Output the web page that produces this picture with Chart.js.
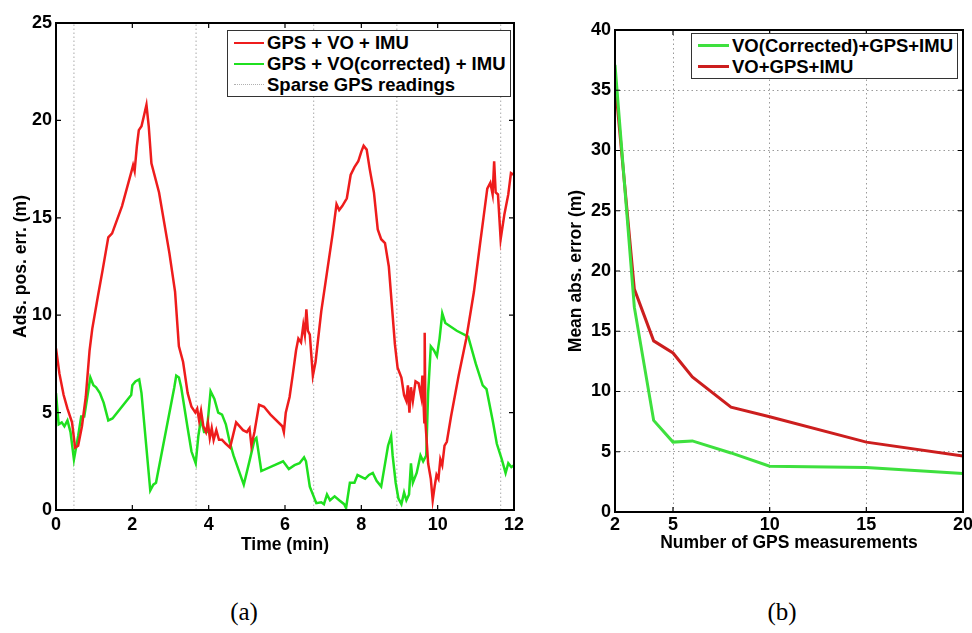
<!DOCTYPE html>
<html><head><meta charset="utf-8">
<script src="https://cdn.jsdelivr.net/npm/chart.js@4.4.0/dist/chart.umd.min.js"></script>
<style>
html,body{margin:0;padding:0;background:#fff;}
#wrap{position:relative;width:972px;height:633px;overflow:hidden;font-family:'Liberation Sans',Arial,sans-serif;}
canvas{position:absolute;top:0;}
#cA{left:0;} #cB{left:545px;}
.legend{position:absolute;background:#fff;border:1px solid #333;padding:1px 4px 1px 6px;font-weight:bold;font-size:18.5px;color:#000;}
.legend .row{display:flex;align-items:center;height:21px;white-space:nowrap;}
.legend .sw{width:30px;margin-right:3px;height:0;}
.cap{position:absolute;font-family:'Liberation Serif',serif;font-size:25px;color:#000;transform:translate(-50%,-50%);white-space:nowrap;}
</style></head><body>
<div id="wrap">
<canvas id="cA" width="545" height="570"></canvas>
<canvas id="cB" width="427" height="570"></canvas>
<div class="cap" style="left:244px;top:612px">(a)</div>
<div class="cap" style="left:782px;top:612px">(b)</div>
</div>
<script>
// ---------- Chart (a) data ----------
const timeRed = [0,0.09,0.2,0.3,0.42,0.5,0.58,0.68,0.78,0.88,0.95,1.1,1.22,1.37,1.47,1.73,1.98,2.02,2.06,2.12,2.17,2.24,2.3,2.37,2.43,2.5,2.7,2.97,3.12,3.22,3.33,3.45,3.55,3.65,3.7,3.75,3.8,3.86,3.93,3.98,4.03,4.08,4.13,4.2,4.27,4.35,4.45,4.56,4.72,4.9,5.0,5.07,5.12,5.2,5.32,5.45,5.62,5.93,5.97,6.02,6.12,6.2,6.29,6.35,6.42,6.48,6.52,6.56,6.6,6.65,6.73,6.8,6.95,7.1,7.25,7.35,7.42,7.5,7.62,7.72,7.82,7.92,8.0,8.06,8.14,8.22,8.33,8.43,8.52,8.62,8.72,8.8,8.88,8.95,9.05,9.12,9.18,9.22,9.26,9.3,9.35,9.42,9.5,9.57,9.6,9.63,9.65,9.66,9.68,9.75,9.82,9.87,9.92,9.97,10.02,10.07,10.12,10.18,10.24,10.35,10.55,10.75,10.95,11.1,11.2,11.3,11.38,11.44,11.48,11.52,11.58,11.65,11.75,11.85,11.92,12.0];
const errRed = [8.3,7.0,5.9,5.2,4.5,3.2,3.3,4.3,5.8,8.2,9.3,11.0,12.3,14.0,14.2,15.6,17.4,17.7,17.4,18.7,19.5,19.7,20.2,20.8,19.7,17.8,16.3,13.2,11.2,8.4,7.6,6.0,5.3,5.0,5.2,4.6,5.1,4.3,4.0,4.5,3.7,4.2,3.6,4.1,3.6,3.6,3.4,3.2,4.5,4.1,4.0,4.2,3.3,4.0,5.4,5.3,4.9,4.3,4.0,5.0,5.8,6.9,8.2,8.8,8.6,9.5,9.0,10.3,9.2,9.0,6.9,7.6,10.2,12.2,14.2,15.7,15.4,15.6,16.0,17.2,17.6,17.9,18.4,18.7,18.5,17.5,16.3,14.4,13.9,13.7,12.5,10.5,8.5,7.3,6.8,5.9,5.6,6.4,5.0,6.3,5.6,6.6,6.5,5.8,6.9,5.5,4.5,9.1,4.5,2.4,1.6,0.5,1.2,1.8,1.6,2.6,2.3,3.3,3.5,4.8,6.9,8.8,11.2,13.5,15.0,16.5,16.8,16.2,17.9,16.3,16.2,13.9,15.2,16.2,17.3,17.2];
const timeGreen = [0,0.07,0.15,0.22,0.3,0.38,0.47,0.58,0.66,0.74,0.82,0.9,0.98,1.05,1.15,1.25,1.37,1.48,1.97,2.0,2.08,2.18,2.24,2.47,2.55,2.62,3.1,3.15,3.22,3.28,3.45,3.55,3.66,3.73,3.8,3.88,3.95,4.05,4.15,4.25,4.35,4.45,4.55,4.65,4.92,5.08,5.2,5.25,5.38,5.95,6.1,6.25,6.38,6.5,6.55,6.65,6.82,6.95,7.02,7.1,7.18,7.3,7.42,7.55,7.6,7.7,7.82,7.9,8.0,8.1,8.2,8.3,8.4,8.52,8.7,8.78,8.82,8.9,8.97,9.05,9.12,9.18,9.25,9.3,9.35,9.45,9.55,9.62,9.7,9.75,9.82,9.9,9.98,10.05,10.12,10.2,10.5,10.8,11.0,11.18,11.28,11.45,11.55,11.68,11.78,11.85,11.93,12.0];
const errGreen = [6.0,4.4,4.5,4.3,4.6,4.0,2.6,3.8,4.8,4.8,5.8,6.8,6.4,6.3,6.0,5.5,4.6,4.7,5.9,6.4,6.6,6.7,6.0,1.0,1.3,1.4,6.3,6.9,6.8,6.3,4.2,3.0,2.4,3.8,4.7,4.0,4.0,6.1,5.7,5.0,4.9,4.4,3.5,2.8,1.3,2.6,3.6,3.7,2.0,2.5,2.1,2.3,2.4,2.7,2.5,1.2,0.35,0.4,0.3,0.8,0.5,0.7,0.5,0.3,0.1,1.4,1.4,1.8,1.7,1.6,1.8,1.9,1.5,1.2,3.3,3.8,2.8,1.4,0.6,0.3,0.9,0.5,0.8,2.4,1.4,1.9,2.8,2.5,2.8,6.0,8.4,8.2,7.9,8.8,10.1,9.6,9.2,8.9,7.5,6.4,6.2,4.5,3.4,2.6,1.9,2.4,2.2,2.3];
const sparseGpsTimes = [0.47, 3.67, 6.75, 8.93, 11.65];
const seriesNamesA = ['GPS + VO + IMU', 'GPS + VO(corrected) + IMU', 'Sparse GPS readings'];
const axisTitlesA = ['Time (min)', 'Ads. pos. err. (m)'];
const xRangeA = [0, 12], yRangeA = [0, 25];

// ---------- Chart (b) data ----------
const gpsCounts = [2, 3, 4, 5, 6, 8, 10, 15, 20];
const meanCorrected = [37.1, 17.0, 7.6, 5.8, 5.9, 4.9, 3.8, 3.7, 3.2];
const meanPlain = [35.8, 18.5, 14.2, 13.2, 11.2, 8.7, 7.9, 5.8, 4.65];
const gpsTickValues = [2, 5, 10, 15, 20];
const seriesNamesB = ['VO(Corrected)+GPS+IMU', 'VO+GPS+IMU'];
const axisTitlesB = ['Number of GPS measurements', 'Mean abs. error (m)'];
const xRangeB = [2, 20], yRangeB = [0, 40];

const FONT = {family: "'Liberation Sans', Arial, sans-serif", size: 18, weight: 'bold'};
const TFONT = {family: "'Liberation Sans', Arial, sans-serif", size: 17.5, weight: 'bold'};
Chart.defaults.font = Object.assign({}, Chart.defaults.font, FONT);
Chart.defaults.color = '#000';

const zip = (xs, ys) => xs.map((x, i) => ({x, y: ys[i]}));

const frameTicks = {
  id: 'frameTicks',
  afterDatasetsDraw(chart, args, opts) {
    const {ctx, chartArea: a, scales} = chart;
    const L = opts.len || 5;
    ctx.save();
    ctx.strokeStyle = '#000';
    ctx.lineWidth = 1.2;
    ctx.beginPath();
    scales.x.ticks.forEach(t => {
      const p = scales.x.getPixelForValue(t.value);
      ctx.moveTo(p, a.bottom); ctx.lineTo(p, a.bottom - L);
      ctx.moveTo(p, a.top); ctx.lineTo(p, a.top + L);
    });
    scales.y.ticks.forEach(t => {
      const p = scales.y.getPixelForValue(t.value);
      ctx.moveTo(a.left, p); ctx.lineTo(a.left + L, p);
      ctx.moveTo(a.right, p); ctx.lineTo(a.right - L, p);
    });
    ctx.stroke();
    ctx.lineWidth = 2;
    ctx.strokeRect(a.left, a.top, a.right - a.left, a.bottom - a.top);
    ctx.restore();
  }
};

function buildLegend(chart, canvasLeft, rightGap, topGap, sw) {
  const items = Chart.defaults.plugins.legend.labels.generateLabels(chart);
  const box = document.createElement('div');
  box.className = 'legend';
  items.forEach(it => {
    const row = document.createElement('div'); row.className = 'row';
    const s = document.createElement('div'); s.className = 'sw';
    s.style.width = sw + 'px';
    if (it.lineDash && it.lineDash.length) s.style.borderTop = '1.5px dotted #b0b0b0';
    else s.style.borderTop = it.lineWidth + 'px solid ' + it.strokeStyle;
    const t = document.createElement('span'); t.textContent = it.text;
    row.appendChild(s); row.appendChild(t); box.appendChild(row);
  });
  document.getElementById('wrap').appendChild(box);
  const a = chart.chartArea;
  box.style.left = (canvasLeft + a.right - rightGap - box.offsetWidth) + 'px';
  box.style.top = (a.top + topGap) + 'px';
}

// ---------- Chart (a) ----------
const sparseData = [];
sparseGpsTimes.forEach(v => { sparseData.push({x: v, y: yRangeA[0]}, {x: v, y: yRangeA[1]}, {x: v, y: null}); });

const chartA = new Chart(document.getElementById('cA'), {
  type: 'line',
  data: {datasets: [
    {label: seriesNamesA[0], data: zip(timeRed, errRed), borderColor: '#ee1c1c', backgroundColor: '#ee1c1c', borderWidth: 2.5, pointRadius: 0, tension: 0},
    {label: seriesNamesA[1], data: zip(timeGreen, errGreen), borderColor: '#1fe01f', backgroundColor: '#1fe01f', borderWidth: 2.5, pointRadius: 0, tension: 0},
    {label: seriesNamesA[2], data: sparseData, borderColor: '#b8b8b8', backgroundColor: '#b8b8b8', borderWidth: 1.2, borderDash: [1.5, 2.5], pointRadius: 0, spanGaps: false}
  ]},
  options: {
    responsive: false, animation: false, devicePixelRatio: 1,
    layout: {padding: {top: 23, right: 31, left: 0, bottom: 0}},
    plugins: {legend: {display: false}, tooltip: {enabled: false}, frameTicks: {len: 5}},
    scales: {
      x: {type: 'linear', min: xRangeA[0], max: xRangeA[1],
        ticks: {stepSize: 2, padding: 4, color: '#000', font: FONT},
        grid: {display: false, drawTicks: false}, border: {display: false},
        title: {display: true, text: axisTitlesA[0], color: '#000', font: TFONT, padding: {top: 0, bottom: 14}},
        afterFit(s) { s.height = 60; s.paddingLeft = 0; s.paddingRight = 0; }},
      y: {type: 'linear', min: yRangeA[0], max: yRangeA[1],
        ticks: {stepSize: 5, padding: 4, color: '#000', font: FONT},
        grid: {display: false, drawTicks: false}, border: {display: false},
        title: {display: true, text: axisTitlesA[1], color: '#000', font: TFONT, padding: {top: 11, bottom: 0}},
        afterFit(s) { s.width = 56; s.paddingTop = 0; s.paddingBottom = 0; }}
    }
  },
  plugins: [frameTicks]
});
buildLegend(chartA, 0, 3, 7, 30);

// ---------- Chart (b) ----------
const chartB = new Chart(document.getElementById('cB'), {
  type: 'line',
  data: {datasets: [
    {label: seriesNamesB[0], data: zip(gpsCounts, meanCorrected), borderColor: '#3ee03e', backgroundColor: '#3ee03e', borderWidth: 3, pointRadius: 0, tension: 0},
    {label: seriesNamesB[1], data: zip(gpsCounts, meanPlain), borderColor: '#cc1e1e', backgroundColor: '#cc1e1e', borderWidth: 3, pointRadius: 0, tension: 0}
  ]},
  options: {
    responsive: false, animation: false, devicePixelRatio: 1,
    layout: {padding: {top: 30, right: 9, left: 0, bottom: 0}},
    plugins: {legend: {display: false}, tooltip: {enabled: false}, frameTicks: {len: 5}},
    scales: {
      x: {type: 'linear', min: xRangeB[0], max: xRangeB[1],
        afterBuildTicks(s) { s.ticks = gpsTickValues.map(v => ({value: v})); },
        ticks: {padding: 2, color: '#000', font: FONT},
        grid: {display: true, drawTicks: false, color: '#9a9a9a', lineWidth: 1}, border: {display: false, dash: [1.5, 3]},
        title: {display: true, text: axisTitlesB[0], color: '#000', font: TFONT, padding: {top: 0, bottom: 16}},
        afterFit(s) { s.height = 58; s.paddingLeft = 0; s.paddingRight = 0; }},
      y: {type: 'linear', min: yRangeB[0], max: yRangeB[1],
        ticks: {stepSize: 5, padding: 4, color: '#000', font: FONT},
        grid: {display: true, drawTicks: false, color: '#9a9a9a', lineWidth: 1}, border: {display: false, dash: [1.5, 3]},
        title: {display: true, text: axisTitlesB[1], color: '#000', font: TFONT, padding: {top: 21, bottom: 0}},
        afterFit(s) { s.width = 70; s.paddingTop = 0; s.paddingBottom = 0; }}
    }
  },
  plugins: [frameTicks]
});
buildLegend(chartB, 545, 5, 3, 31);
</script>
</body></html>
